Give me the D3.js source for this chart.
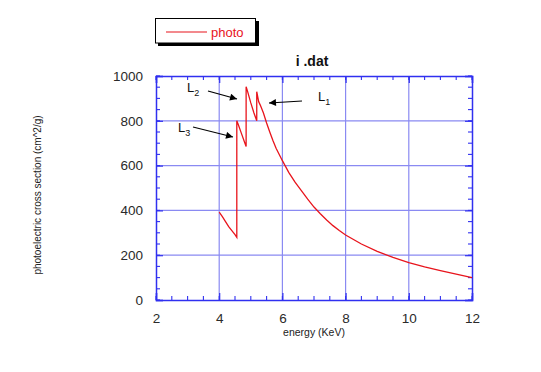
<!DOCTYPE html>
<html>
<head>
<meta charset="utf-8">
<script src="https://cdn.jsdelivr.net/npm/d3@7"></script>
<style>
  body { margin: 0; background: #fff; }
  text { font-family: "Liberation Sans", Arial, sans-serif; }
</style>
</head>
<body>
<div id="container"></div>
<script>
let w = 541;
let h = 372;

// values
let energy = [4.0, 4.1, 4.2, 4.3, 4.4, 4.5, 4.557, 4.557, 4.6, 4.7, 4.8, 4.852, 4.852, 4.9, 5.0, 5.1, 5.188, 5.188,
  5.25, 5.3, 5.4, 5.5, 5.6, 5.7, 5.8, 6.0, 6.2, 6.4, 6.6, 6.8, 7.0, 7.2, 7.4, 7.6, 7.8, 8.0, 8.5, 9.0, 9.5, 10.0, 10.5, 11.0, 11.5, 12.0];
let photo = [392, 372, 350, 328, 310, 292, 280, 800, 785, 745, 705, 685, 952, 930, 880, 835, 800, 930,
  885, 870, 835, 790, 750, 712, 677, 622, 570, 526, 488, 450, 415, 385, 357, 332, 310, 290, 250, 217, 190, 167, 148, 131, 115, 100];
let xTicks = [2, 4, 6, 8, 10, 12];
let yTicks = [0, 200, 400, 600, 800, 1000];
let edges = [
  {name: "L", sub: "2", lx: 187, ly: 92, x1: 208, y1: 91, x2: 237, y2: 99},
  {name: "L", sub: "3", lx: 178, ly: 132, x1: 193, y1: 127, x2: 233, y2: 137},
  {name: "L", sub: "1", lx: 318, ly: 101, x1: 302, y1: 101, x2: 269, y2: 103}
];

let pLeft = 156, pRight = 472, pTop = 76, pBottom = 300;
let axisColor = "#3030f0";
let gridColor = "#8a8af2";

let viz = d3.select("#container").append("svg")
  .attr("width", w)
  .attr("height", h);

let x = d3.scaleLinear().domain([2, 12]).range([pLeft, pRight]);
let y = d3.scaleLinear().domain([0, 1000]).range([pBottom, pTop]);

// grid
viz.append("g").selectAll("line").data(xTicks.slice(1, -1)).enter().append("line")
  .attr("x1", d => x(d)).attr("x2", d => x(d)).attr("y1", pTop).attr("y2", pBottom)
  .attr("stroke", gridColor).attr("stroke-width", 1.2);
viz.append("g").selectAll("line").data(yTicks.slice(1, -1)).enter().append("line")
  .attr("y1", d => y(d)).attr("y2", d => y(d)).attr("x1", pLeft).attr("x2", pRight)
  .attr("stroke", gridColor).attr("stroke-width", 1.2);

// axes on all four sides, ticks inward
let minorX = d3.range(2, 12.01, 0.5);
let minorY = d3.range(0, 1000.1, 50);
let bottomAxis = d3.axisBottom(x).tickValues(xTicks).tickSize(-7).tickPadding(13).tickFormat(d3.format("d"));
let leftAxis = d3.axisLeft(y).tickValues(yTicks).tickSize(-7).tickPadding(13).tickFormat(d3.format("d"));

function styleAxis(g) {
  g.select(".domain").attr("stroke", axisColor).attr("stroke-width", 1.5);
  g.selectAll(".tick line").attr("stroke", axisColor).attr("stroke-width", 1.2);
  g.selectAll("text").attr("fill", "#2a2a2a").style("font-size", "13.5px")
    .style("font-family", "'Liberation Sans', Arial, sans-serif");
}

viz.append("g").attr("transform", "translate(0," + pBottom + ")").call(bottomAxis).call(styleAxis);
viz.append("g").attr("transform", "translate(" + pLeft + ",0)").call(leftAxis).call(styleAxis);
viz.append("g").attr("transform", "translate(0," + pTop + ")")
  .call(d3.axisTop(x).tickValues(xTicks).tickSize(-7).tickFormat("")).call(styleAxis);
viz.append("g").attr("transform", "translate(" + pRight + ",0)")
  .call(d3.axisRight(y).tickValues(yTicks).tickSize(-7).tickFormat("")).call(styleAxis);

// minor ticks
let minor = viz.append("g").attr("stroke", axisColor).attr("stroke-width", 1.1);
minorX.forEach(function (v) {
  minor.append("line").attr("x1", x(v)).attr("x2", x(v)).attr("y1", pBottom).attr("y2", pBottom - 4);
  minor.append("line").attr("x1", x(v)).attr("x2", x(v)).attr("y1", pTop).attr("y2", pTop + 4);
});
minorY.forEach(function (v) {
  minor.append("line").attr("y1", y(v)).attr("y2", y(v)).attr("x1", pLeft).attr("x2", pLeft + 4);
  minor.append("line").attr("y1", y(v)).attr("y2", y(v)).attr("x1", pRight).attr("x2", pRight - 4);
});

// data line
let data = energy.map((e, i) => ({e: e, v: photo[i]}));
let line = d3.line().x(d => x(d.e)).y(d => y(d.v));
viz.append("path").datum(data)
  .attr("d", line)
  .attr("fill", "none")
  .attr("stroke", "#e8141c")
  .attr("stroke-width", 1.3);

// arrows and edge labels
viz.append("defs").append("marker")
  .attr("id", "head").attr("viewBox", "0 0 10 10")
  .attr("refX", 10).attr("refY", 5)
  .attr("markerWidth", 9).attr("markerHeight", 7)
  .attr("markerUnits", "userSpaceOnUse")
  .attr("orient", "auto")
  .append("path").attr("d", "M0,0L10,5L0,10Z").attr("fill", "#000");

let edgeGroups = viz.selectAll(".edge").data(edges).enter().append("g").attr("class", "edge");
edgeGroups.append("line")
  .attr("x1", d => d.x1).attr("y1", d => d.y1).attr("x2", d => d.x2).attr("y2", d => d.y2)
  .attr("stroke", "#000").attr("stroke-width", 1.2).attr("marker-end", "url(#head)");
let lab = edgeGroups.append("text")
  .attr("x", d => d.lx).attr("y", d => d.ly)
  .attr("fill", "#111").style("font-size", "13px");
lab.append("tspan").text(d => d.name);
lab.append("tspan").attr("dy", 4).style("font-size", "9px").text(d => d.sub);

// title
viz.append("text").attr("x", 312).attr("y", 66).attr("text-anchor", "middle")
  .style("font-size", "14px").style("font-weight", "bold").attr("fill", "#111")
  .text("i .dat");

// axis labels
viz.append("text").attr("x", 314).attr("y", 336).attr("text-anchor", "middle")
  .style("font-size", "10.5px").attr("fill", "#222").text("energy (KeV)");
viz.append("text").attr("transform", "translate(41," + 195 + ") rotate(-90)")
  .attr("text-anchor", "middle").style("font-size", "10px").attr("fill", "#222")
  .text("photoelectric cross section (cm^2/g)");

// legend
let legend = viz.append("g");
legend.append("rect").attr("x", 158).attr("y", 21).attr("width", 101).attr("height", 25).attr("fill", "#000");
legend.append("rect").attr("x", 155.5).attr("y", 18.5).attr("width", 100).attr("height", 24.5)
  .attr("fill", "#fff").attr("stroke", "#000").attr("stroke-width", 1);
legend.append("line").attr("x1", 166).attr("x2", 207).attr("y1", 32).attr("y2", 32)
  .attr("stroke", "#e8141c").attr("stroke-width", 1.2);
legend.append("text").attr("x", 211).attr("y", 37).attr("fill", "#e8141c")
  .style("font-size", "13px").text("photo");
</script>
</body>
</html>
